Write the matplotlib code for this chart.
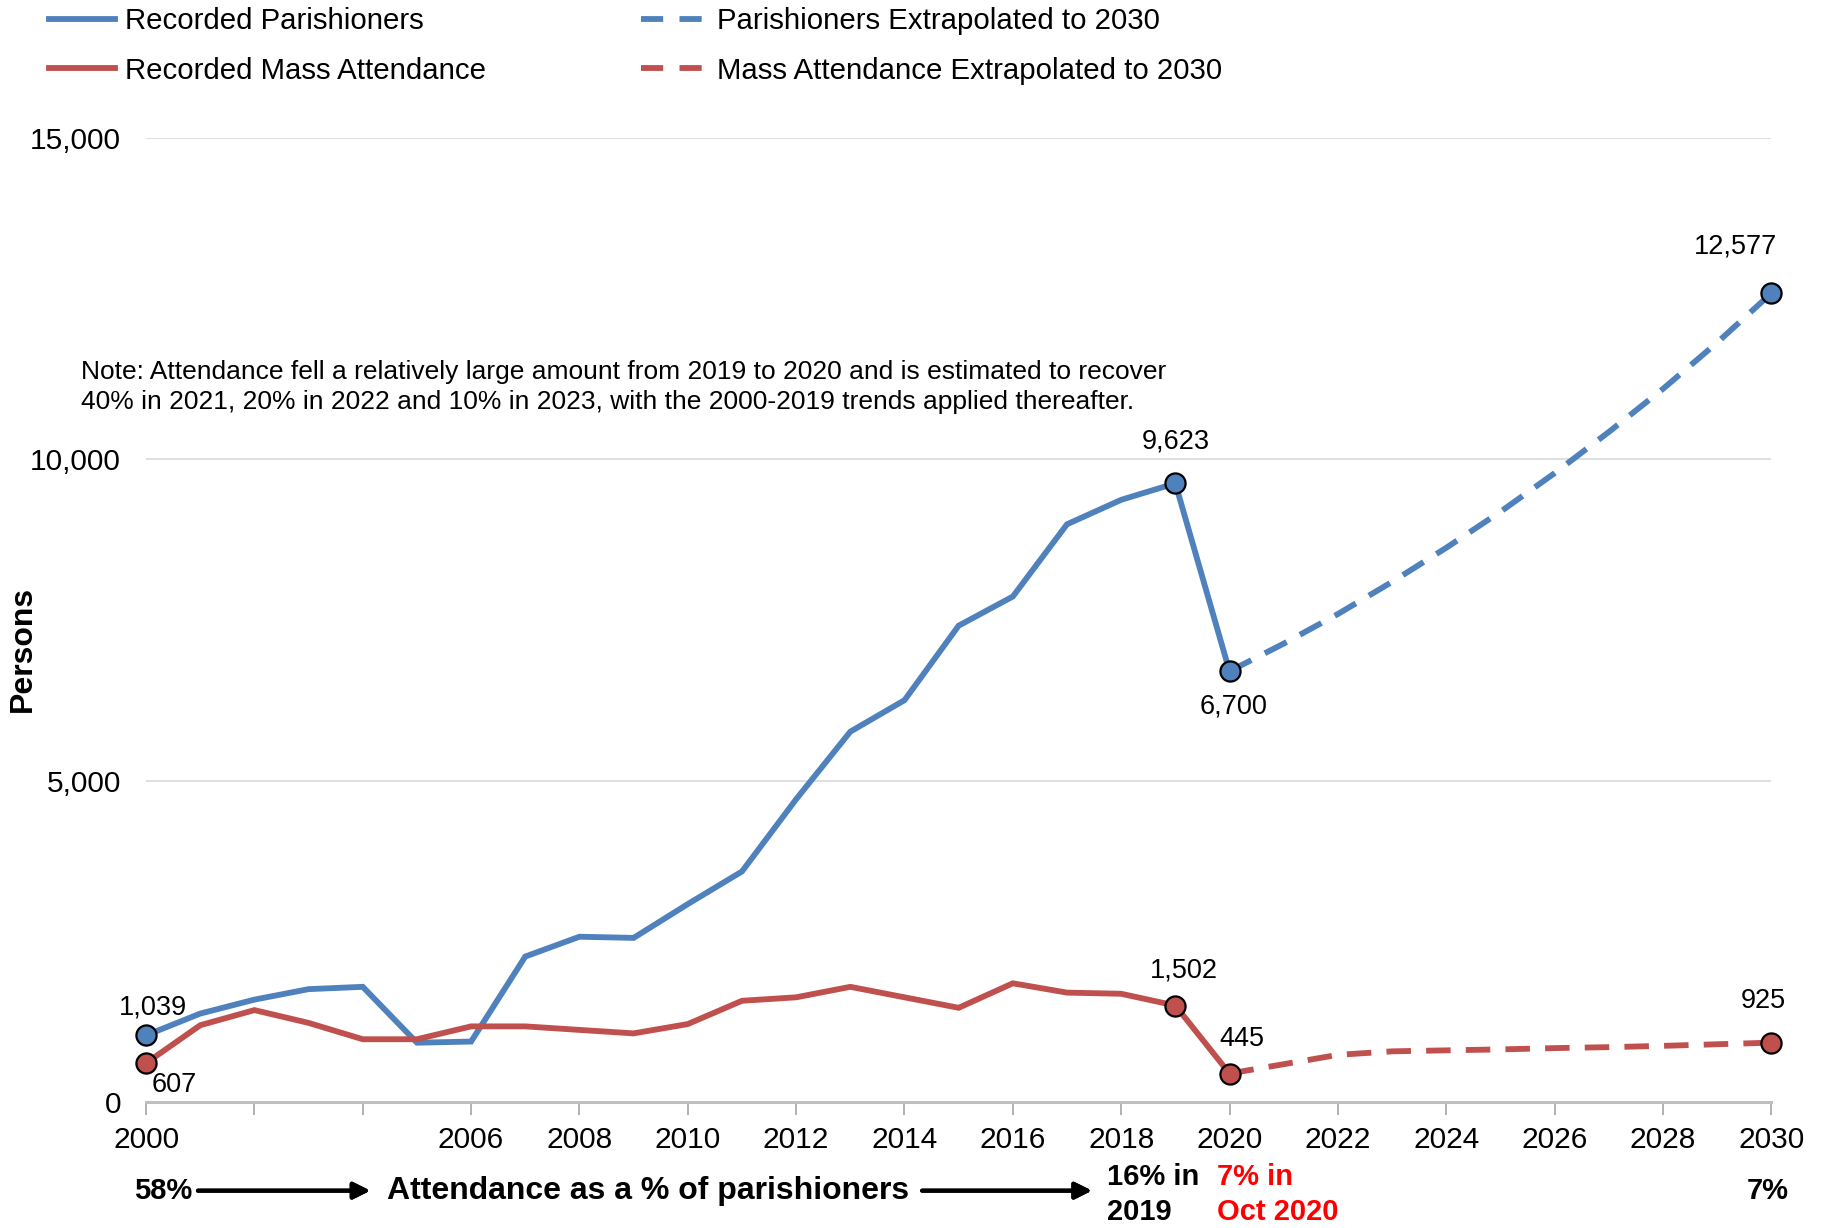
import numpy as np
import matplotlib.pyplot as plt
from matplotlib.lines import Line2D

plt.rcParams['font.family'] = ['Liberation Sans', 'DejaVu Sans']

years = list(range(2000, 2021))
parishioners = [1039, 1377, 1594, 1757, 1793, 924, 942, 2264, 2572, 2554, 3080,
                3587, 4710, 5761, 6250, 7409, 7862, 8986, 9366, 9623, 6700]
attendance = [607, 1196, 1431, 1232, 978, 978, 1178, 1178, 1123, 1069, 1214,
              1576, 1630, 1793, 1630, 1467, 1848, 1703, 1685, 1502, 445]

# extrapolated to 2030
ext_years = list(range(2020, 2031))
ext_parishioners = [6700, 7130, 7590, 8090, 8620, 9180, 9780, 10420, 11090, 11810, 12577]
ext_attendance = [445, 590, 735, 790, 805, 820, 840, 855, 875, 900, 925]

# labelled points
marked_years = [2000, 2019, 2020, 2030]
tick_years = list(range(2000, 2031, 2))
tick_labels = ['' if y in (2002, 2004) else str(y) for y in tick_years]

blue = '#4F81BD'
red = '#C0504D'
lw = 4.2
dash = (4.2, 2.6)

fig = plt.figure(figsize=(18.26, 12.28), dpi=100)
ax = fig.add_axes([0.080, 0.1025, 0.890, 0.7855])

ax.plot(years, parishioners, color=blue, lw=lw, solid_joinstyle='miter', zorder=3)
ax.plot(years, attendance, color=red, lw=lw, solid_joinstyle='miter', zorder=3)
ax.plot(ext_years, ext_parishioners, color=blue, lw=lw, dashes=dash, zorder=3)
ax.plot(ext_years, ext_attendance, color=red, lw=lw, dashes=dash, zorder=3)

# markers from the series
p_all = dict(zip(years, parishioners)); p_all.update(zip(ext_years, ext_parishioners))
a_all = dict(zip(years, attendance)); a_all.update(zip(ext_years, ext_attendance))
ax.plot(marked_years, [p_all[y] for y in marked_years], 'o', ms=14.5, mfc=blue,
        mec='black', mew=1.6, zorder=4, clip_on=False)
ax.plot(marked_years, [a_all[y] for y in marked_years], 'o', ms=14.5, mfc=red,
        mec='black', mew=1.6, zorder=4, clip_on=False)

fs = 19.5
def lab(x, y, dx, dy, txt):
    ax.annotate(txt, (x, y), xytext=(dx, dy), textcoords='offset points',
                ha='center', va='center', fontsize=fs)

lab(2000, p_all[2000], 5, 20, f'{p_all[2000]:,}')
lab(2000, a_all[2000], 20, -16, f'{a_all[2000]:,}')
lab(2019, p_all[2019], 0, 30, f'{p_all[2019]:,}')
lab(2020, p_all[2020], 3, -25, f'{p_all[2020]:,}')
lab(2030, p_all[2030], -26, 34, f'{p_all[2030]:,}')
lab(2019, a_all[2019], 6, 25, f'{a_all[2019]:,}')
lab(2020, a_all[2020], 9, 25, f'{a_all[2020]:,}')
lab(2030, a_all[2030], -6, 30, f'{a_all[2030]:,}')

ax.set_xlim(2000, 2030)
ax.set_ylim(0, 15000)
ax.set_yticks([0, 5000, 10000, 15000])
ax.set_yticklabels(['0', '5,000', '10,000', '15,000'])
ax.set_xticks(tick_years)
ax.set_xticklabels(tick_labels)
ax.tick_params(axis='y', length=0, pad=18, labelsize=21.5)
ax.tick_params(axis='x', direction='out', length=9, width=1.2, color='#A6A6A6', pad=8, labelsize=21.5)
ax.grid(axis='y', color='#D9D9D9', lw=1.2)
ax.set_axisbelow(True)
for s in ['top', 'right', 'left']:
    ax.spines[s].set_visible(False)
ax.spines['bottom'].set_color('#BFBFBF')
ax.spines['bottom'].set_linewidth(2.2)
ax.patch.set_alpha(0)

fig.text(0.0128, 0.4715, 'Persons', rotation=90, ha='center', va='center',
         fontsize=23, fontweight='bold')

fig.text(0.0446, 0.685,
         'Note: Attendance fell a relatively large amount from 2019 to 2020 and is estimated to recover\n'
         '40% in 2021, 20% in 2022 and 10% in 2023, with the 2000-2019 trends applied thereafter.',
         ha='left', va='center', fontsize=19, linespacing=1.3)

# legend, one column at a time
leg_kw = dict(loc='upper left', frameon=False, fontsize=21.2, handlelength=2.25,
              handletextpad=0.35, labelspacing=0.72, borderpad=0, borderaxespad=0)
leg1 = fig.legend([Line2D([], [], color=blue, lw=lw), Line2D([], [], color=red, lw=lw)],
                  ['Recorded Parishioners', 'Recorded Mass Attendance'],
                  bbox_to_anchor=(0.0268, 0.994), **leg_kw)
leg2 = fig.legend([Line2D([], [], color=blue, lw=lw, dashes=(3.8, 2.8)),
                   Line2D([], [], color=red, lw=lw, dashes=(3.8, 2.8))],
                  ['Parishioners Extrapolated to 2030', 'Mass Attendance Extrapolated to 2030'],
                  bbox_to_anchor=(0.3508, 0.994), **leg_kw)

# attendance as a % of parishioners
bfs = 21
fig.text(0.0893, 0.0304, '58%', ha='center', va='center', fontsize=bfs, fontweight='bold')
fig.text(0.355, 0.0304, 'Attendance as a % of parishioners', ha='center', va='center',
         fontsize=23, fontweight='bold')
for x0, x1 in [(0.1084, 0.2028), (0.505, 0.598)]:
    fig.add_artist(plt.annotate('', xy=(x1, 0.0304), xytext=(x0, 0.0304), xycoords='figure fraction',
                                arrowprops=dict(arrowstyle='-|>', color='black', lw=3,
                                                mutation_scale=25, shrinkA=0, shrinkB=0)))
fig.text(0.6065, 0.0275, '16% in\n2019', ha='left', va='center', fontsize=bfs,
         fontweight='bold', linespacing=1.3)
fig.text(0.6665, 0.0275, '7% in\nOct 2020', ha='left', va='center', fontsize=bfs,
         fontweight='bold', color='red', linespacing=1.3)
fig.text(0.968, 0.0304, '7%', ha='center', va='center', fontsize=bfs, fontweight='bold')

fig.savefig('out.png', dpi=100)
